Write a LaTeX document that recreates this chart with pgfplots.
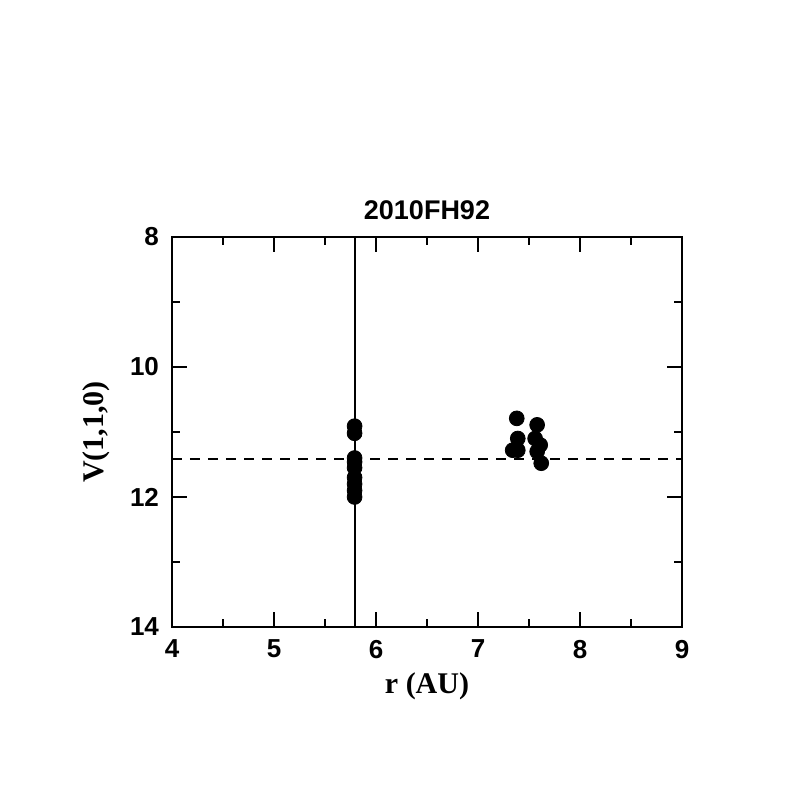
\documentclass[border=0pt]{standalone}
\usepackage{fontspec}
\setmainfont{Liberation Sans}
\newfontfamily\labf{Liberation Serif}
\usepackage{pgfplots}
\pgfplotsset{compat=1.18}
\begin{document}
\begin{tikzpicture}
\path[use as bounding box] (-86pt,-85pt) rectangle (312.5pt,313.5pt);
\begin{axis}[
  at={(0,0)}, anchor=south west,
  scale only axis, width=255pt, height=195pt,
  xmin=4, xmax=9, ymin=8, ymax=14, y dir=reverse,
  xtick={4,5,6,7,8,9}, ytick={8,10,12,14},
  minor xtick={4.5,5.5,6.5,7.5,8.5}, minor ytick={9,11,13},
  tick align=inside, xtick pos=both, ytick pos=both,
  major tick length=7.5pt, minor tick length=4pt,
  every tick/.style={black, line width=0.9pt},
  axis line style={line width=1.2pt},
  /pgf/number format/assume math mode=true,
  tick label style={font=\bfseries\fontsize{13}{15}\selectfont},
  xticklabel style={yshift=-3pt},
  yticklabel style={xshift=-3pt},
  title={\bfseries\fontsize{13.5}{15}\selectfont 2010FH92},
  title style={yshift=-1pt},
  xlabel={\labf\bfseries\fontsize{15}{17}\selectfont r (AU)},
  ylabel={\labf\bfseries\fontsize{15}{17}\selectfont V(1,1,0)},
  ylabel style={yshift=3pt},
  clip=false,
]
\addplot[black, line width=1pt] coordinates {(5.79,8) (5.79,14)};
\addplot[black, line width=1pt, dash pattern=on 5pt off 4pt] coordinates {(4,11.41) (9,11.41)};
\addplot[only marks, mark=*, mark size=3.7pt, black] coordinates {
(5.79,10.91) (5.79,11.02) (5.79,11.40) (5.79,11.46) (5.79,11.55) (5.79,11.70) (5.79,11.80) (5.79,11.90) (5.79,12.00)
(7.38,10.79) (7.39,11.10) (7.34,11.28) (7.39,11.28)
(7.58,10.89) (7.56,11.10) (7.61,11.20) (7.58,11.30) (7.62,11.48)
};
\end{axis}
\end{tikzpicture}
\end{document}
